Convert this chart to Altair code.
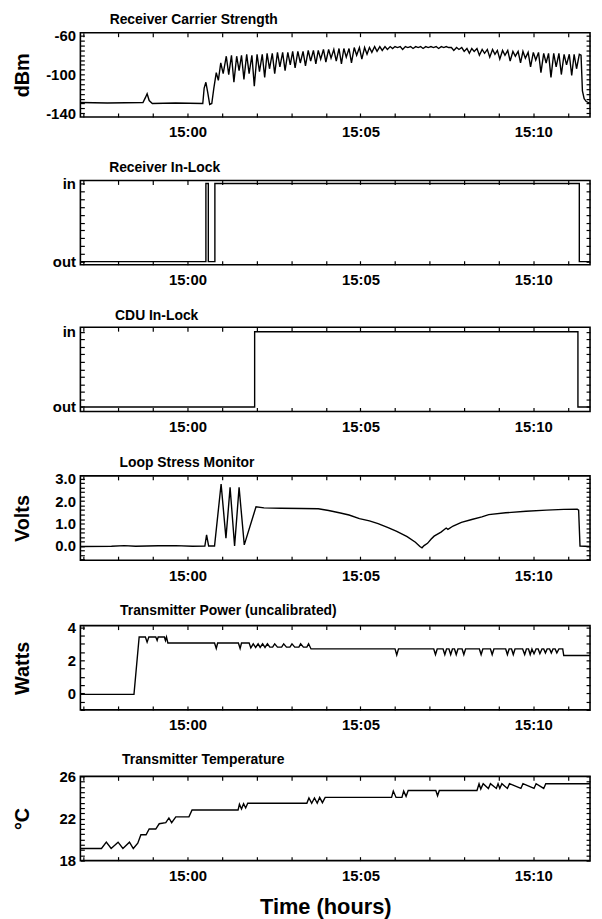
import altair as alt
import pandas as pd

# ---------------- data (minutes after 15:00) ----------------
x_domain = [-3.10, 11.64]
minute_ticks = [-3, -2, -1, 0, 1, 2, 3, 4, 5, 6, 7, 8, 9, 10, 11]
time_tick_values = [0, 5, 10]
time_tick_labels = ["15:00", "15:05", "15:10"]

# Receiver carrier strength (dBm)
rx_points = [
    (-3.10, -129), (-2.32, -129.5), (-1.29, -129), (-1.22, -124), (-1.17, -120), (-1.11, -127),
    (-1.02, -130), (-0.35, -129.5), (0.44, -130), (0.48, -114), (0.53, -108), (0.58, -118),
    (0.64, -131), (0.70, -130), (0.76, -114), (0.83, -98), (0.89, -106), (0.96, -88), (1.03, -99),
    (1.12, -81), (1.19, -100), (1.27, -80), (1.34, -108), (1.42, -81), (1.49, -96),
    (1.56, -80), (1.63, -105), (1.71, -79), (1.78, -99), (1.86, -80), (1.93, -112),
    (2.01, -79), (2.08, -97), (2.16, -79), (2.23, -103), (2.30, -78), (2.37, -94),
    (2.45, -78), (2.52, -99), (2.60, -77), (2.67, -92), (2.75, -77), (2.82, -96),
    (2.90, -77), (2.97, -90), (3.04, -76), (3.11, -93), (3.19, -76), (3.26, -88),
    (3.34, -76), (3.41, -91), (3.49, -75), (3.56, -86), (3.64, -75), (3.71, -89),
    (3.78, -75), (3.85, -84), (3.93, -74), (4.00, -87), (4.08, -74), (4.15, -83),
    (4.23, -74), (4.30, -86), (4.38, -73), (4.45, -89), (4.52, -73), (4.59, -82),
    (4.67, -73), (4.74, -88), (4.82, -72), (4.89, -80), (4.97, -72), (5.04, -84),
    (5.12, -72), (5.19, -79), (5.26, -72), (5.33, -77), (5.41, -71), (5.48, -76),
    (5.56, -71), (5.63, -75), (5.71, -71), (5.78, -74), (5.86, -71), (5.93, -73),
    (6.00, -71), (6.07, -72), (6.15, -71), (6.22, -74), (6.30, -71), (6.37, -72),
    (6.45, -71), (6.52, -73), (6.60, -71), (6.67, -72), (6.74, -71), (6.81, -73),
    (6.89, -71), (6.96, -72), (7.04, -71), (7.11, -72), (7.19, -71), (7.26, -73),
    (7.34, -71), (7.41, -72), (7.48, -71), (7.55, -72), (7.63, -72), (7.70, -75),
    (7.78, -72), (7.85, -74), (7.93, -72), (8.00, -76), (8.08, -73), (8.15, -78),
    (8.22, -73), (8.29, -76), (8.37, -73), (8.44, -80), (8.52, -74), (8.59, -78),
    (8.67, -74), (8.74, -82), (8.82, -74), (8.89, -79), (8.96, -75), (9.03, -84),
    (9.11, -75), (9.18, -80), (9.26, -75), (9.33, -86), (9.41, -76), (9.48, -81),
    (9.56, -76), (9.63, -88), (9.70, -76), (9.77, -83), (9.85, -77), (9.92, -92),
    (10.00, -77), (10.07, -85), (10.15, -77), (10.22, -98), (10.30, -78), (10.37, -88),
    (10.44, -78), (10.51, -103), (10.59, -78), (10.66, -92), (10.74, -78), (10.81, -100),
    (10.89, -79), (10.96, -90), (11.04, -79), (11.11, -101), (11.18, -79), (11.25, -94),
    (11.33, -79), (11.38, -80), (11.42, -117), (11.47, -125), (11.53, -128), (11.64, -130),
]

# Receiver in-lock (0 = out, 1 = in)
rx_lock_points = [(-3.10, 0), (0.53, 1), (0.60, 0), (0.79, 1), (11.33, 0), (11.64, 0)]

# CDU in-lock
cdu_lock_points = [(-3.10, 0), (1.94, 1), (11.29, 0), (11.64, 0)]

# Loop stress monitor (Volts)
loop_points = [
    (-3.10, -0.02), (-2.20, -0.01), (-1.83, 0.02), (-1.50, -0.01), (-0.85, 0.01), (-0.35, 0.02),
    (0.14, -0.01), (0.50, 0.0), (0.55, 0.5), (0.61, 0.0), (0.78, 0.0), (0.97, 2.76),
    (1.11, 0.35), (1.23, 2.61), (1.36, 0.0), (1.49, 2.61), (1.64, 0.05), (1.98, 1.75),
    (2.21, 1.70), (2.70, 1.68), (3.29, 1.67), (3.78, 1.66), (4.08, 1.58), (4.42, 1.47),
    (4.67, 1.38), (4.97, 1.22), (5.26, 1.12), (5.51, 1.0), (5.80, 0.82), (6.05, 0.65),
    (6.35, 0.42), (6.59, 0.17), (6.72, -0.02), (6.78, -0.08), (6.84, 0.02), (6.94, 0.12),
    (7.04, 0.30), (7.13, 0.44), (7.33, 0.62), (7.48, 0.80), (7.53, 0.74), (7.68, 0.89),
    (7.92, 1.05), (8.22, 1.18), (8.51, 1.30), (8.71, 1.40), (9.20, 1.48), (9.79, 1.55),
    (10.38, 1.60), (10.88, 1.63), (11.27, 1.64), (11.31, 1.60), (11.35, 0.0), (11.64, -0.02),
]

# Transmitter power (Watts, uncalibrated)
power_points = [
    (-3.10, -0.06), (-1.55, -0.06), (-1.40, 3.41), (-1.22, 3.41), (-1.17, 3.10), (-1.12, 3.41),
    (-0.92, 3.41), (-0.88, 3.20), (-0.85, 3.41), (-0.67, 3.41), (-0.64, 3.20), (-0.61, 3.41),
    (-0.57, 3.05), (0.78, 3.05), (0.83, 2.72), (0.87, 3.05), (1.47, 3.05), (1.52, 2.72),
    (1.56, 3.05), (1.78, 3.05), (1.83, 2.75), (1.90, 3.0), (1.97, 2.78), (2.04, 3.0),
    (2.10, 2.78), (2.17, 3.0), (2.24, 2.78), (2.31, 3.0), (2.38, 2.8), (2.46, 2.8),
    (2.52, 3.0), (2.60, 2.8), (2.72, 2.8), (2.78, 3.0), (2.86, 2.8), (2.96, 2.8),
    (3.02, 3.0), (3.10, 2.8), (3.22, 2.8), (3.27, 3.0), (3.35, 2.8), (3.45, 2.8),
    (3.50, 3.0), (3.57, 2.69), (6.00, 2.69), (6.05, 2.32), (6.10, 2.69), (7.12, 2.69),
    (7.17, 2.35), (7.22, 2.69), (7.39, 2.69), (7.44, 2.35), (7.49, 2.69), (7.56, 2.69),
    (7.61, 2.35), (7.66, 2.69), (7.72, 2.69), (7.77, 2.35), (7.82, 2.69), (7.94, 2.69),
    (7.99, 2.35), (8.04, 2.69), (8.44, 2.69), (8.49, 2.35), (8.54, 2.69), (8.76, 2.69),
    (8.81, 2.35), (8.86, 2.69), (9.20, 2.69), (9.25, 2.35), (9.30, 2.69), (9.37, 2.69),
    (9.42, 2.35), (9.47, 2.69), (9.69, 2.69), (9.75, 2.35), (9.80, 2.69), (9.86, 2.69),
    (9.91, 2.35), (9.96, 2.69), (10.02, 2.40), (10.08, 2.69), (10.14, 2.69), (10.19, 2.40),
    (10.25, 2.69), (10.30, 2.69), (10.35, 2.45), (10.40, 2.69), (10.47, 2.69), (10.52, 2.45),
    (10.57, 2.69), (10.63, 2.69), (10.68, 2.45), (10.74, 2.69), (10.85, 2.69), (10.88, 2.29),
    (11.64, 2.29),
]

# Transmitter temperature (deg C)
temp_points = [
    (-3.10, 19.15), (-2.49, 19.15), (-2.35, 19.75), (-2.21, 19.15), (-2.01, 19.75), (-1.87, 19.15),
    (-1.68, 19.75), (-1.57, 19.15), (-1.44, 19.65), (-1.35, 20.45), (-1.20, 20.45), (-1.11, 21.0),
    (-0.92, 21.0), (-0.82, 21.5), (-0.63, 21.6), (-0.54, 22.05), (-0.46, 21.6), (-0.34, 22.15),
    (0.04, 22.15), (0.13, 22.8), (1.46, 22.8), (1.50, 23.35), (1.56, 22.9), (1.62, 23.4),
    (1.68, 23.0), (1.74, 23.45), (3.45, 23.45), (3.51, 23.95), (3.59, 23.45), (3.67, 23.95),
    (3.75, 23.45), (3.82, 24.0), (3.90, 23.5), (3.98, 24.0), (5.90, 24.0), (5.95, 24.6),
    (6.03, 24.0), (6.20, 24.0), (6.25, 24.6), (6.32, 24.1), (6.38, 24.65), (7.18, 24.65),
    (7.23, 24.15), (7.28, 24.65), (8.37, 24.65), (8.43, 25.3), (8.48, 24.8), (8.55, 25.3),
    (8.70, 24.85), (8.76, 25.3), (8.93, 24.85), (8.98, 25.3), (9.03, 24.85), (9.09, 25.3),
    (9.25, 24.85), (9.31, 25.3), (9.64, 24.85), (9.70, 25.3), (10.02, 24.85), (10.08, 25.3),
    (10.30, 24.85), (10.36, 25.3), (11.64, 25.3),
]

# axis tick values / labels
dbm_ticks = [-140, -135, -130, -125, -120, -115, -110, -105, -100, -95, -90, -85, -80, -75, -70, -65, -60]
dbm_labels = ([-140, -100, -60], ["-140", "-100", "-60"])
lock_ticks = [0, 0.1, 0.2, 0.3, 0.4, 0.5, 0.6, 0.7, 0.8, 0.9, 1]
lock_labels = ([0, 1], ["out", "in"])
volt_ticks = [-0.6, -0.4, -0.2, 0, 0.2, 0.4, 0.6, 0.8, 1, 1.2, 1.4, 1.6, 1.8, 2, 2.2, 2.4, 2.6, 2.8, 3]
volt_labels = ([0, 1, 2, 3], ["0.0", "1.0", "2.0", "3.0"])
watt_ticks = [-1, -0.5, 0, 0.5, 1, 1.5, 2, 2.5, 3, 3.5, 4]
watt_labels = ([0, 2, 4], ["0", "2", "4"])
temp_ticks = [18, 18.5, 19, 19.5, 20, 20.5, 21, 21.5, 22, 22.5, 23, 23.5, 24, 24.5, 25, 25.5, 26]
temp_labels = ([18, 22, 26], ["18", "22", "26"])

# ---------------- chart ----------------
FONT = "Liberation Sans"
W, H = 514, 85
TICK = 4


def label_expr(values, labels):
    parts = [f"abs(datum.value - ({v})) < 0.001 ? '{l}'" for v, l in zip(values, labels)]
    return " : ".join(parts) + " : ''"


def panel(points, title, dx, y_domain, y_ticks, y_labels, y_title=None,
          interp="linear", x_title=None):
    df = pd.DataFrame(points, columns=["t", "v"])
    xs = alt.Scale(domain=x_domain, nice=False, zero=False)
    ys = alt.Scale(domain=y_domain, nice=False, zero=False)

    x_kw = dict(orient="bottom", values=minute_ticks, offset=-TICK, tickSize=TICK,
                tickColor="black", tickWidth=1.2, domain=False, grid=False,
                labelExpr=label_expr(time_tick_values, time_tick_labels),
                labelPadding=8, labelFont=FONT, labelFontSize=15, labelFontWeight="bold",
                labelColor="black", labelOverlap=False, labelFlush=False)
    if x_title:
        x_kw.update(title=x_title, titleFont=FONT, titleFontSize=22, titleFontWeight="bold",
                    titleColor="black", titleX=247, titleY=57, titleAlign="center",
                    titleBaseline="alphabetic", titleAngle=0)
    y_kw = dict(orient="left", values=y_ticks, offset=-TICK, tickSize=TICK,
                tickColor="black", tickWidth=1.2, domain=False, grid=False,
                labelExpr=label_expr(*y_labels), labelPadding=5, labelFont=FONT,
                labelFontSize=15, labelFontWeight="bold", labelColor="black",
                labelOverlap=False, labelFlush=False, labelBaseline="middle")
    if y_title:
        y_kw.update(title=y_title, titleFont=FONT, titleFontSize=20, titleFontWeight="bold",
                    titleColor="black", titleX=-62, titleY=H / 2, titleAngle=270,
                    titleAlign="center", titleBaseline="middle")

    x_enc = alt.X("t:Q", scale=xs, axis=alt.Axis(**x_kw), title=x_title if x_title else None)
    y_enc = alt.Y("v:Q", scale=ys, axis=alt.Axis(**y_kw), title=y_title if y_title else None)

    line = alt.Chart(df).mark_line(color="black", strokeWidth=1.4, interpolate=interp).encode(
        x=x_enc, y=y_enc)

    ghost = alt.Chart(df).mark_line(opacity=0, interpolate=interp).encode(
        x=alt.X("t:Q", scale=xs, title=None,
                axis=alt.Axis(orient="top", values=minute_ticks, offset=-TICK, tickSize=TICK,
                              tickColor="black", tickWidth=1.2, domain=False, grid=False,
                              labels=False)),
        y=alt.Y("v:Q", scale=ys, title=None,
                axis=alt.Axis(orient="right", values=y_ticks, offset=-TICK, tickSize=TICK,
                              tickColor="black", tickWidth=1.2, domain=False, grid=False,
                              labels=False)),
    )

    return alt.layer(line, ghost).resolve_scale(x="independent", y="independent").resolve_axis(
        x="independent", y="independent").properties(
        width=W, height=H,
        title=alt.TitleParams(title, anchor="start", frame="group", dx=dx, offset=2,
                              font=FONT, fontSize=14, fontWeight="bold", color="black"))


p1 = panel(rx_points, "Receiver Carrier Strength", 29.5, [-144, -56.6], dbm_ticks, dbm_labels, "dBm")
p2 = panel(rx_lock_points, "Receiver In-Lock", 29, [-0.04, 1.04], lock_ticks, lock_labels,
           interp="step-after")
p3 = panel(cdu_lock_points, "CDU In-Lock", 35, [-0.06, 1.06], lock_ticks, lock_labels,
           interp="step-after")
p4 = panel(loop_points, "Loop Stress Monitor", 39.5, [-0.63, 3.12], volt_ticks, volt_labels, "Volts")
p5 = panel(power_points, "Transmitter Power (uncalibrated)", 40, [-1.0, 4.1], watt_ticks, watt_labels,
           "Watts")
p6 = panel(temp_points, "Transmitter Temperature", 42, [18, 26], temp_ticks, temp_labels, "°C",
           x_title="Time (hours)")

chart = alt.vconcat(p1, p2, p3, p4, p5, p6, spacing=19).properties(
    padding={"left": 4, "top": 0, "right": 0, "bottom": 0},
    background="white",
).configure_view(stroke="black", strokeWidth=1.6)

chart.save("out.html", embed_options={"renderer": "svg", "actions": False})
